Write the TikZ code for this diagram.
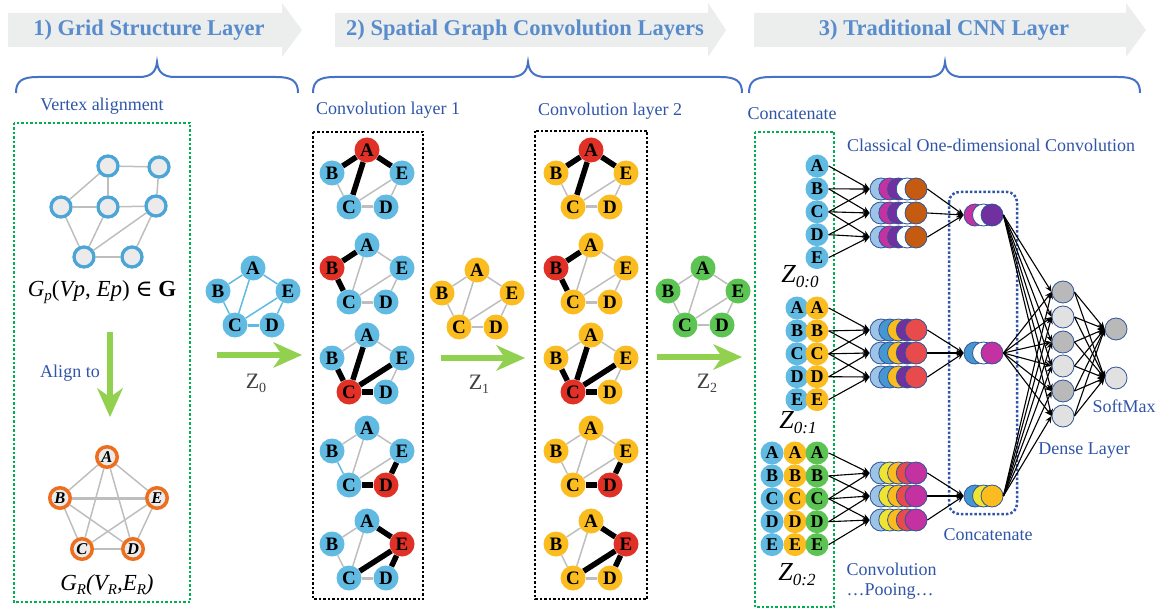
\documentclass[tikz,border=0pt]{standalone}
\usepackage{fontspec}
\setmainfont{Liberation Serif}
\newfontfamily\dejav{DejaVu Serif}
\usetikzlibrary{arrows.meta,calc}
\pgfdeclarelayer{bg}
\pgfsetlayers{bg,main}
\definecolor{bannergray}{RGB}{236,237,237}
\definecolor{bannertext}{RGB}{88,140,204}
\definecolor{bracecol}{RGB}{68,114,196}
\definecolor{lblue}{RGB}{47,85,168}
\definecolor{dotgreen}{RGB}{0,176,80}
\definecolor{arrowgreen}{RGB}{146,208,80}
\definecolor{ringblue}{RGB}{75,165,215}
\definecolor{ringorange}{RGB}{237,110,30}
\definecolor{nodegray}{RGB}{235,235,235}
\definecolor{skyblue}{RGB}{96,186,226}
\definecolor{ryellow}{RGB}{250,188,30}
\definecolor{rgreen}{RGB}{92,196,82}
\definecolor{rred}{RGB}{225,48,38}
\definecolor{edgegray}{RGB}{190,190,190}
\definecolor{stlblue}{RGB}{157,195,230}
\definecolor{stmag}{RGB}{195,50,160}
\definecolor{stpurp}{RGB}{112,48,160}
\definecolor{stbrown}{RGB}{197,90,17}
\definecolor{stmid}{RGB}{70,150,210}
\definecolor{stred}{RGB}{232,75,75}
\definecolor{styel}{RGB}{240,228,50}
\definecolor{outl}{RGB}{47,85,151}
\definecolor{dgray}{RGB}{185,185,185}
\definecolor{dlight}{RGB}{225,225,225}
\definecolor{zgray}{RGB}{64,64,64}
\newcommand\mkpent[8]{%
  \node[gnode,fill=#4] (#1A) at (#2,#3) {A};
  \node[gnode,fill=#5] (#1B) at (#2-35,#3+23) {B};
  \node[gnode,fill=#6] (#1C) at (#2-18,#3+57) {C};
  \node[gnode,fill=#7] (#1D) at (#2+19,#3+57) {D};
  \node[gnode,fill=#8] (#1E) at (#2+35,#3+23) {E};}
\newcommand\pedges[8]{\begin{pgfonlayer}{bg}
  \draw[#2] (#1A)--(#1B); \draw[#3] (#1A)--(#1C); \draw[#4] (#1A)--(#1E);
  \draw[#5] (#1B)--(#1C); \draw[#6] (#1C)--(#1E); \draw[#7] (#1C)--(#1D);
  \draw[#8] (#1D)--(#1E);\end{pgfonlayer}}
\newcommand\mkcol[4]{\foreach \L [count=\i from 0] in {A,B,C,D,E}{\node[cin,fill=#4] (#1\L) at (#2,#3+22.9*\i) {\L};}}
\newcommand\mkstack[7]{%
  \node[scirc,fill=#3] (#1-1) at (881,#2) {};
  \node[scirc,fill=#4] (#1-2) at (889.75,#2) {};
  \node[scirc,fill=#5] (#1-3) at (898.5,#2) {};
  \node[scirc,fill=#6] (#1-4) at (907.25,#2) {};
  \node[scirc,fill=#7] (#1-5) at (916,#2) {};}
\newcommand\mkpool[5]{%
  \node[scirc,fill=#3] (#1-1) at (975,#2) {};
  \node[scirc,fill=#4] (#1-2) at (983.5,#2) {};
  \node[scirc,fill=#5] (#1-3) at (992,#2) {};}
\newcommand\mybrace[3]{\draw[bracestyle] (#1,93) .. controls (#1,81) and (#1+6,77) .. (#1+22,77) -- (#2-18,77) .. controls (#2-6,77) and (#2-1,72) .. (#2,62) .. controls (#2+1,72) and (#2+6,77) .. (#2+18,77) -- (#3-22,77) .. controls (#3-6,77) and (#3,81) .. (#3,93);}
\begin{document}
\begin{tikzpicture}[x=1pt,y=-1pt,
  bannertxt/.style={font=\fontsize{22.5}{24}\selectfont\bfseries, text=bannertext},
  bracestyle/.style={draw=bracecol, line width=2pt},
  lbl/.style={font=\fontsize{18}{20}\selectfont, text=lblue},
  gnode/.style={circle, minimum size=25pt, inner sep=0pt, font=\fontsize{19}{19}\selectfont\bfseries, text=black},
  gp/.style={circle, draw=ringblue, line width=3.3pt, fill=nodegray, minimum size=20pt, inner sep=0pt},
  gr/.style={circle, draw=ringorange, line width=3.5pt, fill=nodegray, minimum size=20.5pt, inner sep=0pt, font=\fontsize{16.5}{16.5}\selectfont\bfseries\itshape},
  eg/.style={draw=edgegray, line width=1.5pt},
  egt/.style={draw=edgegray, line width=3pt},
  ek/.style={draw=black, line width=5.5pt},
  eb/.style={draw=skyblue, line width=1.5pt},
  ez/.style={draw=skyblue, line width=1.5pt},
  ezt/.style={draw=skyblue, line width=3pt},
  greenbox/.style={draw=dotgreen, line width=2.5pt, dotted},
  blackbox/.style={draw=black, line width=2.5pt, dotted},
  garrow/.style={draw=arrowgreen, line width=6pt, -{Stealth[length=29pt,width=26pt,inset=9pt,line width=0pt]}},
  cin/.style={circle, minimum size=23pt, inner sep=0pt, font=\fontsize{18}{18}\selectfont\bfseries},
  scirc/.style={circle, minimum size=22pt, inner sep=0pt, draw=outl, line width=0.8pt},
  carrow/.style={draw=black, line width=1.1pt, -{Stealth[length=7pt,width=6pt]}},
  zlab/.style={font=\fontsize{22}{22}\selectfont, text=zgray},
  zz/.style={font=\fontsize{26}{26}\selectfont\itshape, text=black}]
\useasboundingbox (0,0) rectangle (1161,612);
% banners
\fill[bannergray] (8,13) -- (282,13) -- (282,3) -- (302,30) -- (282,57) -- (282,47) -- (8,47) -- cycle;
\fill[bannergray] (335,13) -- (708,13) -- (708,3) -- (726,30) -- (708,57) -- (708,47) -- (335,47) -- cycle;
\fill[bannergray] (754,13) -- (1126,13) -- (1126,3) -- (1146,30) -- (1126,57) -- (1126,47) -- (754,47) -- cycle;
\node[bannertxt] (t1) at (149,30) {1) Grid Structure Layer};
\node[bannertxt] (t2) at (525,30) {2) Spatial Graph Convolution Layers};
\node[bannertxt] (t3) at (944,30) {3) Traditional CNN Layer};
\mybrace{16}{157}{298}
\mybrace{313}{528}{742}
\mybrace{749}{945}{1140}
% boxes
\draw[greenbox] (14,123) rectangle (190,602);
\draw[blackbox] (313,132) rectangle (423,599);
\draw[blackbox] (535,131) rectangle (647,599);
\draw[greenbox] (755,132) rectangle (834,607);
\draw[draw=lblue, line width=2.5pt, dotted, rounded corners=10pt] (949,192) rectangle (1017,514);
% labels
\node[lbl] (l1) at (102,106) {Vertex alignment};
\node[lbl] (l2) at (70,373) {Align to};
\node[lbl] (l3) at (388,110) {Convolution layer 1};
\node[lbl] (l4) at (610,111) {Convolution layer 2};
\node[lbl] (l5) at (792,114) {Concatenate};
\node[lbl] (l6) at (991,145) {Classical One-dimensional Convolution};
\node[lbl, align=left, anchor=west] (l7) at (843,581) {Convolution\\…Pooing…};
\node[lbl] (l8) at (988,535) {Concatenate};
\node[lbl] (l9) at (1084,451) {Dense Layer};
\node[lbl] (l10) at (1124,406) {SoftMax};
% Gp graph
\node[gp] (n1) at (108,166) {};
\node[gp] (n2) at (159,167) {};
\node[gp] (n3) at (61,207) {};
\node[gp] (n4) at (108,207) {};
\node[gp] (n5) at (156,206) {};
\node[gp] (n6) at (84,257) {};
\node[gp] (n7) at (132,257) {};
\begin{pgfonlayer}{bg}
\foreach \a/\b in {n1/n2,n1/n3,n1/n4,n2/n5,n3/n4,n4/n5,n3/n6,n4/n6,n5/n6,n5/n7,n6/n7} \draw[eg] (\a)--(\b);
\end{pgfonlayer}
\node[font=\fontsize{23}{23}\selectfont] (gpl) at (102,292) {\textit{G}\raisebox{-4pt}{\fontsize{15}{15}\selectfont\itshape p}(\textit{Vp}, \textit{Ep}) {\dejav ∈} \textbf{G}};
% align arrow
\coordinate (al1) at (110,332);
\coordinate (al2) at (110,417);
\draw[garrow] (al1) -- (al2);
% GR graph
\node[gr] (rA) at (107,457) {A};
\node[gr] (rB) at (60,498) {B};
\node[gr] (rE) at (157,498) {E};
\node[gr] (rC) at (82,549) {C};
\node[gr] (rD) at (133,549) {D};
\begin{pgfonlayer}{bg}
\foreach \a/\b in {rA/rB,rA/rC,rA/rD,rA/rE,rB/rC,rB/rD,rC/rD,rC/rE,rD/rE} \draw[eg] (\a)--(\b);
\draw[egt] (rB)--(rE);
\end{pgfonlayer}
\node[font=\fontsize{23}{23}\selectfont\itshape] (grl) at (107,585) {G\raisebox{-4pt}{\fontsize{15}{15}\selectfont R}(V\raisebox{-4pt}{\fontsize{15}{15}\selectfont R},E\raisebox{-4pt}{\fontsize{15}{15}\selectfont R})};
% Z0 graph
\mkpent{z0}{253}{268}{skyblue}{skyblue}{skyblue}{skyblue}{skyblue}
\pedges{z0}{ez}{ez}{ez}{ez}{ez}{ezt}{ez}
\coordinate (za1) at (217,355);
\coordinate (za2) at (302,355);
\draw[garrow] (za1) -- (za2);
\node[zlab] (zl0) at (256,383) {Z\raisebox{-4pt}{\fontsize{14}{14}\selectfont 0}};
% conv layer 1
\mkpent{a1}{367}{150}{rred}{skyblue}{skyblue}{skyblue}{skyblue}
\pedges{a1}{ek}{ek}{ek}{eg}{eg}{egt}{eg}
\mkpent{a2}{367}{245}{skyblue}{rred}{skyblue}{skyblue}{skyblue}
\pedges{a2}{ek}{eg}{eg}{ek}{eg}{egt}{eg}
\mkpent{a3}{367}{335}{skyblue}{skyblue}{rred}{skyblue}{skyblue}
\pedges{a3}{eg}{ek}{eg}{ek}{ek}{ek}{eg}
\mkpent{a4}{367}{428}{skyblue}{skyblue}{skyblue}{rred}{skyblue}
\pedges{a4}{eg}{eg}{eg}{eb}{eg}{ek}{ek}
\mkpent{a5}{367}{521}{skyblue}{skyblue}{skyblue}{skyblue}{rred}
\pedges{a5}{eg}{eg}{ek}{eg}{ek}{egt}{ek}
% Z1 graph
\mkpent{z1}{477}{270}{ryellow}{ryellow}{ryellow}{ryellow}{ryellow}
\pedges{z1}{eg}{eg}{eg}{eg}{eg}{eg}{eg}
\coordinate (zb1) at (441,358);
\coordinate (zb2) at (525,358);
\draw[garrow] (zb1) -- (zb2);
\node[zlab] (zl1) at (479,384) {Z\raisebox{-4pt}{\fontsize{14}{14}\selectfont 1}};
% conv layer 2
\mkpent{b1}{591}{150}{rred}{ryellow}{ryellow}{ryellow}{ryellow}
\pedges{b1}{ek}{ek}{ek}{eg}{eg}{egt}{eg}
\mkpent{b2}{591}{245}{ryellow}{rred}{ryellow}{ryellow}{ryellow}
\pedges{b2}{ek}{eg}{eg}{ek}{eg}{egt}{eg}
\mkpent{b3}{591}{335}{ryellow}{ryellow}{rred}{ryellow}{ryellow}
\pedges{b3}{eg}{ek}{eg}{ek}{ek}{ek}{eg}
\mkpent{b4}{591}{428}{ryellow}{ryellow}{ryellow}{rred}{ryellow}
\pedges{b4}{eg}{eg}{eg}{eg}{eg}{ek}{ek}
\mkpent{b5}{591}{521}{ryellow}{ryellow}{ryellow}{ryellow}{rred}
\pedges{b5}{eg}{eg}{ek}{eg}{ek}{egt}{ek}
% Z2 graph
\mkpent{z2}{703}{268}{rgreen}{rgreen}{rgreen}{rgreen}{rgreen}
\pedges{z2}{eg}{eg}{eg}{eg}{eg}{eg}{eg}
\coordinate (zc1) at (657,357);
\coordinate (zc2) at (742,357);
\draw[garrow] (zc1) -- (zc2);
\node[zlab] (zl2) at (707,383) {Z\raisebox{-4pt}{\fontsize{14}{14}\selectfont 2}};
% CNN inputs
\mkcol{ra}{817}{166}{skyblue}
\mkcol{rbx}{797}{308}{skyblue}
\mkcol{rb}{817}{308}{ryellow}
\mkcol{rcx}{772}{453}{skyblue}
\mkcol{rcy}{795}{453}{ryellow}
\mkcol{rc}{817}{453}{rgreen}
\node[zz] (zt0) at (800,277) {Z\raisebox{-5pt}{\fontsize{17}{17}\selectfont 0:0}};
\node[zz] (zt1) at (798,423) {Z\raisebox{-5pt}{\fontsize{17}{17}\selectfont 0:1}};
\node[zz] (zt2) at (797,575) {Z\raisebox{-5pt}{\fontsize{17}{17}\selectfont 0:2}};
% stacks
\mkstack{sa1}{189}{stlblue}{stmag}{stpurp}{white}{stbrown}
\mkstack{sa2}{213}{stlblue}{stmag}{stpurp}{white}{stbrown}
\mkstack{sa3}{237}{stlblue}{stmag}{stpurp}{white}{stbrown}
\mkstack{sb1}{330}{stlblue}{stmid}{ryellow}{stpurp}{stred}
\mkstack{sb2}{353}{stlblue}{stmid}{ryellow}{stpurp}{stred}
\mkstack{sb3}{377}{stlblue}{stmid}{ryellow}{stpurp}{stred}
\mkstack{sc1}{473}{stlblue}{styel}{ryellow}{stred}{stmag}
\mkstack{sc2}{496}{stlblue}{styel}{ryellow}{stred}{stmag}
\mkstack{sc3}{520}{stlblue}{styel}{ryellow}{stred}{stmag}
\mkpool{pa}{215}{stmag}{white}{stpurp}
\mkpool{pb}{353}{stmid}{white}{stmag}
\mkpool{pc}{496}{stmid}{styel}{ryellow}
% dense
\node[scirc,fill=dgray] (d1) at (1063,292) {};
\node[scirc,fill=dlight] (d2) at (1063,317) {};
\node[scirc,fill=dgray] (d3) at (1063,342) {};
\node[scirc,fill=dlight] (d4) at (1063,366) {};
\node[scirc,fill=dgray] (d5) at (1063,391) {};
\node[scirc,fill=dlight] (d6) at (1063,416) {};
\node[scirc,fill=dgray] (o1) at (1116,329) {};
\node[scirc,fill=dlight] (o2) at (1116,378) {};
% arrows
\foreach \r/\s in {ra/sa,rb/sb,rc/sc}{
  \foreach \a/\b in {A/1,B/1,C/1,B/2,C/2,D/2,C/3,D/3,E/3}
    \draw[carrow] (\r\a.east) -- (\s\b-1.west);}
\foreach \s/\p in {sa/pa,sb/pb,sc/pc}{
  \foreach \b in {1,2,3} \draw[carrow] (\s\b-5.east) -- (\p-1.west);}
\foreach \p in {pa,pb,pc}{
  \foreach \d in {1,...,6} \draw[carrow] (\p-3.east) -- (d\d.west);}
\foreach \d in {1,...,6}{
  \foreach \o in {1,2} \draw[carrow] (d\d.east) -- (o\o.west);}
\end{tikzpicture}
\end{document}
